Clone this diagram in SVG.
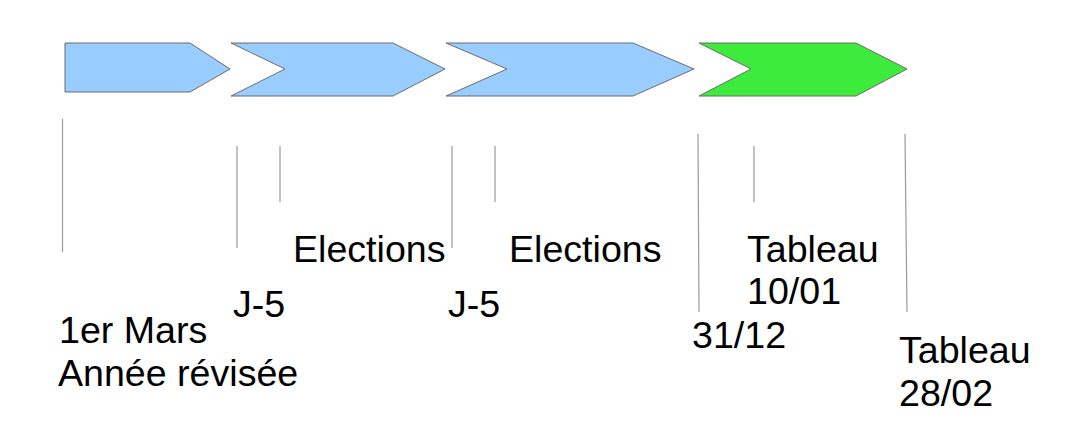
<svg xmlns="http://www.w3.org/2000/svg" width="1083" height="432" viewBox="0 0 1083 432">
<style>
.blue{fill:#99ccff;stroke:#6b6b6b;stroke-width:1}
.green{fill:#3deb3d;stroke:#6b6b6b;stroke-width:1}
.tick{stroke:#9a9a9a;stroke-width:1.2;fill:none}
text{font-family:"Liberation Sans",Arial,sans-serif;font-size:37.6px;fill:#000}
</style>
<rect width="1083" height="432" fill="#fff"/>
<g id="arrow1"><polygon class="blue" points="65,43 190,43 230,69 190,92 65,92"/></g>
<g id="arrow2"><polygon class="blue" points="231,43 393,43 445,69 393,96 231,96 285,69"/></g>
<g id="arrow3"><polygon class="blue" points="446,43 633,43 694,69 633,96 446,96 507,69"/></g>
<g id="arrow4"><polygon class="green" points="699,43 856,43 907,69 856,96 699,96 751,69"/></g>
<g id="connectors">
<line class="tick" x1="62.5" y1="119" x2="62.5" y2="252"/>
<line class="tick" x1="237" y1="146" x2="237" y2="248"/>
<line class="tick" x1="280" y1="146" x2="280" y2="202"/>
<line class="tick" x1="452" y1="146" x2="452" y2="248"/>
<line class="tick" x1="495" y1="146" x2="495" y2="202"/>
<line class="tick" x1="698" y1="134" x2="699" y2="312"/>
<line class="tick" x1="754" y1="146" x2="754" y2="202"/>
<line class="tick" x1="905" y1="134" x2="907" y2="312"/>
</g>
<g id="label-elections1"><text x="293" y="262">Elections</text></g>
<g id="label-elections2"><text x="509" y="262">Elections</text></g>
<g id="label-j5a"><text x="233" y="317">J-5</text></g>
<g id="label-j5b"><text x="448" y="317">J-5</text></g>
<g id="label-start"><text x="59" y="343">1er Mars</text><text x="58" y="386">Année révisée</text></g>
<g id="label-tableau1"><text x="747" y="262">Tableau</text><text x="747" y="304">10/01</text></g>
<g id="label-3112"><text x="692" y="348">31/12</text></g>
<g id="label-tableau2"><text x="899" y="363">Tableau</text><text x="899" y="406">28/02</text></g>
</svg>
